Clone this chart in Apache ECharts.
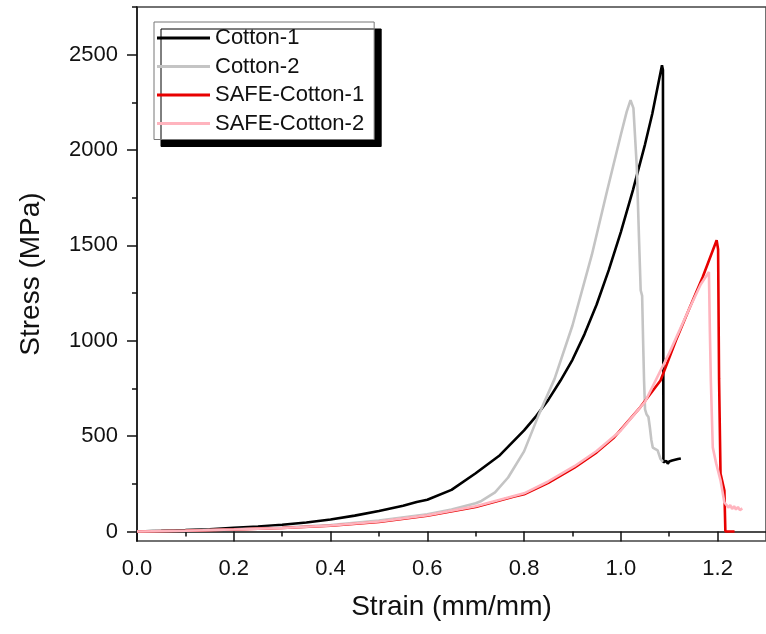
<!DOCTYPE html>
<html>
<head>
<meta charset="utf-8">
<script src="https://cdn.jsdelivr.net/npm/echarts@6/dist/echarts.min.js"></script>
<style>html,body{margin:0;padding:0;background:#fff}#c{width:766px;height:634px}</style>
</head>
<body>
<div id="c"></div>
<script>
var seriesNames = ['Cotton-1', 'Cotton-2', 'SAFE-Cotton-1', 'SAFE-Cotton-2'];

var cotton1Strain = [0,0.05,0.1,0.15,0.2,0.25,0.3,0.35,0.4,0.45,0.5,0.55,0.578,0.582,0.6,0.65,0.7,0.75,0.8,0.825,0.85,0.875,0.9,0.925,0.95,0.975,1.0,1.025,1.05,1.065,1.085,1.087,1.088,1.091,1.094,1.097,1.1,1.106,1.112,1.118,1.124];
var cotton1Stress = [0,3,7,12,19,26,35,47,63,83,107,135,155,148,166,218,305,400,530,605,690,790,900,1035,1190,1370,1570,1790,2030,2190,2445,2420,362,358,370,355,367,372,376,380,383];

var cotton2Strain = [0,0.1,0.2,0.3,0.4,0.5,0.6,0.65,0.7,0.712,0.716,0.74,0.767,0.8,0.83,0.863,0.9,0.94,0.971,1.0,1.012,1.02,1.026,1.033,1.038,1.041,1.044,1.046,1.048,1.05,1.053,1.057,1.06,1.063,1.066,1.07,1.076,1.082,1.087];
var cotton2Stress = [0,5,12,21,34,57,90,115,148,160,163,205,283,420,610,800,1080,1450,1780,2080,2200,2262,2220,1910,1500,1265,1235,1000,790,640,615,600,545,480,440,430,425,380,365];

var safe1Strain = [0,0.1,0.2,0.3,0.4,0.5,0.6,0.7,0.778,0.782,0.8,0.85,0.904,0.95,0.986,1.04,1.082,1.114,1.14,1.169,1.198,1.201,1.203,1.206,1.214,1.216,1.235];
var safe1Stress = [0,4,10,18,30,50,82,128,182,176,195,255,335,415,493,651,792,1002,1160,1333,1527,1480,800,304,215,0,0];

var safe2Strain = [0,0.1,0.2,0.3,0.4,0.5,0.6,0.7,0.8,0.85,0.904,0.95,1.0,1.05,1.1,1.14,1.165,1.182,1.184,1.186,1.19,1.197,1.206,1.214,1.218,1.222,1.226,1.23,1.234,1.238,1.242,1.246,1.251];
var safe2Stress = [0,4,10,18,31,52,85,132,200,262,342,422,530,680,935,1160,1295,1360,1050,792,441,357,268,152,140,125,138,118,132,115,128,112,121];

var xTickLabels = [0, 0.2, 0.4, 0.6, 0.8, 1.0, 1.2];
var xMinorTicks = [0.1, 0.3, 0.5, 0.7, 0.9, 1.1];
var yTickLabels = [0, 500, 1000, 1500, 2000, 2500];
var yMinorTicks = [250, 750, 1250, 1750, 2250, 2750];

function zip(a, b) { return a.map(function (v, i) { return [v, b[i]]; }); }

var colors = ['#000000', '#c4c4c4', '#e80000', '#ffb4be'];
var dataSets = [
  zip(cotton1Strain, cotton1Stress),
  zip(cotton2Strain, cotton2Stress),
  zip(safe1Strain, safe1Stress),
  zip(safe2Strain, safe2Stress)
];

var font = 'Liberation Sans, Arial, sans-serif';
var axisLineStyle = { color: '#111', width: 1.5 };

var chart = echarts.init(document.getElementById('c'), null, { renderer: 'canvas' });
chart.setOption({
  animation: false,
  backgroundColor: '#fff',
  grid: {
    left: 137, top: 7, right: -8, bottom: 93,
    show: true, borderColor: '#444', borderWidth: 1.5, backgroundColor: 'transparent'
  },
  legend: {
    orient: 'vertical',
    left: 154, top: 22,
    padding: [5, 10, 5, 3],
    itemWidth: 53, itemHeight: 3, itemGap: 6.5,
    icon: 'rect',
    backgroundColor: '#fff',
    borderColor: '#777', borderWidth: 1,
    shadowColor: '#000', shadowBlur: 0, shadowOffsetX: 7, shadowOffsetY: 7,
    textStyle: { fontFamily: font, fontSize: 22, color: '#111', lineHeight: 22 },
    data: seriesNames
  },
  xAxis: [{
    type: 'value', min: 0, max: 1.3,
    name: 'Strain (mm/mm)', nameLocation: 'middle', nameGap: 52,
    nameTextStyle: { fontFamily: font, fontSize: 28, color: '#111' },
    axisLine: { show: true, lineStyle: axisLineStyle },
    axisTick: { show: true, length: 10, lineStyle: axisLineStyle, customValues: xTickLabels },
    axisLabel: { fontFamily: font, fontSize: 22, color: '#111', margin: 17, customValues: xTickLabels,
      formatter: function (v) { return Number(v).toFixed(1); } },
    splitLine: { show: false }
  }, {
    type: 'value', min: 0, max: 1.3, position: 'bottom', gridIndex: 0,
    axisLine: { show: false },
    axisTick: { show: true, length: 5, lineStyle: axisLineStyle, customValues: xMinorTicks },
    axisLabel: { show: false },
    splitLine: { show: false }
  }],
  yAxis: [{
    type: 'value', min: -50, max: 2750,
    name: 'Stress (MPa)', nameLocation: 'middle', nameGap: 92,
    nameTextStyle: { fontFamily: font, fontSize: 28, color: '#111' },
    axisLine: { show: true, lineStyle: axisLineStyle },
    axisTick: { show: true, length: 10, lineStyle: axisLineStyle, customValues: yTickLabels },
    axisLabel: { fontFamily: font, fontSize: 22, color: '#111', margin: 19, customValues: yTickLabels,
      formatter: function (v) { return String(Math.round(v)); } },
    splitLine: { show: false }
  }, {
    type: 'value', min: -50, max: 2750, position: 'left', gridIndex: 0,
    axisLine: { show: false },
    axisTick: { show: true, length: 5, lineStyle: axisLineStyle, customValues: yMinorTicks },
    axisLabel: { show: false },
    splitLine: { show: false }
  }],
  series: seriesNames.map(function (n, i) {
    return {
      name: n, type: 'line', data: dataSets[i],
      xAxisIndex: 0, yAxisIndex: 0,
      showSymbol: false, symbol: 'none',
      color: colors[i],
      itemStyle: { color: colors[i] },
      lineStyle: { color: colors[i], width: 2.6 },
      z: 2 + i
    };
  })
});
</script>
</body>
</html>
